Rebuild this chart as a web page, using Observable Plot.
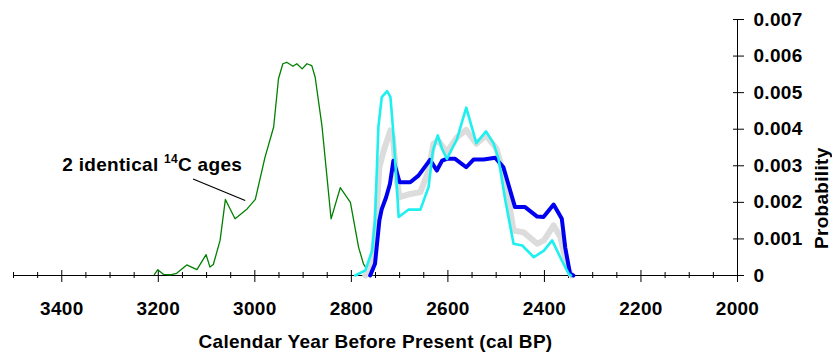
<!DOCTYPE html>
<html>
<head>
<meta charset="utf-8">
<script src="https://cdn.jsdelivr.net/npm/d3@7"></script>
<script src="https://cdn.jsdelivr.net/npm/@observablehq/plot@0.6"></script>
<style>
  html, body { margin: 0; padding: 0; background: #fff; }
  svg { display: block; }
</style>
</head>
<body>
<div id="chart"></div>
<script>
// ---- data ----
const greenYear = [3208,3201,3189,3175,3162,3141,3120,3101,3093,3086,3072,3061,3041,3030,3016,2999,2979,2961,2951,2942,2934,2921,2913,2902,2892,2882,2875,2861,2842,2823,2802,2785,2775,2761,2755];
const greenProb = [0.00003,0.00016,0.00003,0.00002,0.00006,0.00029,0.00016,0.00057,0.00023,0.0003,0.00096,0.00208,0.00155,0.00167,0.00182,0.00208,0.00323,0.00406,0.00538,0.00579,0.00583,0.00572,0.00579,0.00565,0.00579,0.00574,0.00542,0.0041,0.00155,0.0024,0.002,0.00077,0.00032,0.00003,0];

const grayYear = [2771,2757,2749,2742,2733,2719,2714,2706,2700,2678,2657,2640,2630,2620,2602,2581,2562,2541,2521,2499,2481,2464,2443,2415,2401,2381,2367,2353,2344];
const grayProb = [0,0.00032,0.0015,0.00296,0.00342,0.00397,0.00378,0.0026,0.00214,0.00223,0.00228,0.00287,0.0036,0.00369,0.00337,0.00378,0.00398,0.0036,0.00383,0.00346,0.0026,0.00123,0.00118,0.00087,0.00096,0.00137,0.00105,0.00023,0];

const blueYear = [2761,2751,2742,2737,2728,2720,2713,2700,2678,2661,2637,2623,2612,2602,2585,2562,2547,2526,2502,2485,2461,2440,2415,2402,2381,2364,2357,2347,2340];
const blueProb = [0,0.00032,0.0015,0.00182,0.00214,0.00251,0.00314,0.00255,0.00255,0.00273,0.00316,0.00287,0.00314,0.00319,0.00319,0.00296,0.00317,0.00317,0.00322,0.00296,0.00187,0.00187,0.00161,0.0016,0.00194,0.00155,0.00077,0.00005,0];

const cyanYear = [2792,2771,2757,2751,2744,2737,2726,2719,2714,2707,2702,2682,2657,2640,2631,2621,2612,2602,2581,2562,2541,2521,2505,2495,2481,2464,2446,2422,2401,2384,2364,2350,2345];
const cyanProb = [0,0.00014,0.00068,0.0015,0.00406,0.00488,0.00504,0.00488,0.00406,0.00269,0.0016,0.0018,0.0018,0.00242,0.00342,0.00383,0.00346,0.00319,0.00374,0.00459,0.00362,0.00394,0.0036,0.00319,0.00205,0.00087,0.00082,0.0005,0.00068,0.00096,0.00041,0.00005,0];

const xMajorTicks = [3400,3200,3000,2800,2600,2400,2200,2000];
const xMinorTicks = [3500,3450,3350,3300,3250,3150,3100,3050,2950,2900,2850,2750,2700,2650,2550,2500,2450,2350,2300,2250,2150,2100,2050];
const yTicks = [0,0.001,0.002,0.003,0.004,0.005,0.006,0.007];
const yTickLabels = ["0","0.001","0.002","0.003","0.004","0.005","0.006","0.007"];

const xTitle = "Calendar Year Before Present (cal BP)";
const yTitle = "Probability";

const annoText = [{x: 3399, y: 0.00303, pre: "2 identical ", sup: "14", post: "C ages"}];
const annoLine = [{x1: 3128, y1: 0.00264, x2: 3020, y2: 0.00205}];

const pts = (xs, ys) => xs.map((x, i) => ({year: x, p: ys[i]}));
const annoFull = d => d.pre + d.sup + d.post;

const chart = Plot.plot({
  width: 832,
  height: 354,
  marginLeft: 13,
  marginRight: 95,
  marginTop: 19,
  marginBottom: 79,
  style: {fontFamily: "'Liberation Sans', Arial, sans-serif", fontSize: "19px", fontWeight: "bold", letterSpacing: "0.3px", color: "#000", background: "#fff"},
  x: {type: "linear", domain: [3500, 2000]},
  y: {type: "linear", domain: [0, 0.007]},
  marks: [
    // axis lines
    Plot.ruleY([0], {stroke: "#000", strokeWidth: 1}),
    Plot.ruleX([2000], {stroke: "#000", strokeWidth: 1}),
    // x ticks (crossing the axis)
    Plot.axisX({ticks: xMajorTicks, anchor: "bottom", tickSize: 7, tickFormat: () => "", label: null, strokeWidth: 1}),
    Plot.axisX({ticks: xMajorTicks, anchor: "bottom", tickSize: 5, dy: -5, tickFormat: () => "", label: null, strokeWidth: 1}),
    Plot.axisX({ticks: xMinorTicks, anchor: "bottom", tickSize: 3, tickFormat: () => "", label: null, strokeWidth: 1}),
    Plot.axisX({ticks: xMinorTicks, anchor: "bottom", tickSize: 3, dy: -3, tickFormat: () => "", label: null, strokeWidth: 1}),
    Plot.axisX({ticks: xMajorTicks, anchor: "bottom", tickSize: 0, tickPadding: 26, tickFormat: d => String(d), label: null}),
    // y ticks (crossing the axis)
    Plot.axisY({ticks: yTicks, anchor: "right", tickSize: 6, tickFormat: () => "", label: null, strokeWidth: 1}),
    Plot.axisY({ticks: yTicks, anchor: "right", tickSize: 5, dx: -5, tickFormat: () => "", label: null, strokeWidth: 1}),
    Plot.axisY({ticks: yTicks, anchor: "right", tickSize: 0, tickPadding: 16, tickFormat: d => yTickLabels[yTicks.indexOf(d)], label: null}),
    // curves
    Plot.line(pts(greenYear, greenProb), {x: "year", y: "p", stroke: "#008000", strokeWidth: 1.3, curve: "linear"}),
    Plot.line(pts(grayYear, grayProb), {x: "year", y: "p", stroke: "#dcdcdc", strokeWidth: 6, curve: "linear"}),
    Plot.line(pts(blueYear, blueProb), {x: "year", y: "p", stroke: "#0000f0", strokeWidth: 4, curve: "linear"}),
    Plot.line(pts(cyanYear, cyanProb), {x: "year", y: "p", stroke: "#1ef0f0", strokeWidth: 2.6, curve: "linear"}),
    // annotation
    Plot.link(annoLine, {x1: "x1", y1: "y1", x2: "x2", y2: "y2", stroke: "#000", strokeWidth: 1.2}),
    Plot.text(annoText, {x: "x", y: "y", text: annoFull, textAnchor: "start", lineAnchor: "middle", fill: "#000"}),
    // titles
    Plot.text([xTitle], {frameAnchor: "bottom", lineAnchor: "middle", dy: 66, text: d => d, fill: "#000"}),
    Plot.text([yTitle], {frameAnchor: "right", lineAnchor: "middle", dx: 84, rotate: -90, text: d => d, fill: "#000"})
  ]
});

// superscript in annotation
const full = annoFull(annoText[0]);
d3.select(chart).selectAll("text").each(function() {
  if (this.textContent !== full) return;
  const d = annoText[0];
  const t = d3.select(this);
  t.text(null);
  t.append("tspan").text(d.pre);
  t.append("tspan").attr("font-size", 12).attr("dy", -8).text(d.sup);
  t.append("tspan").attr("dy", 8).text(d.post);
});

document.getElementById("chart").appendChild(chart);
</script>
</body>
</html>
